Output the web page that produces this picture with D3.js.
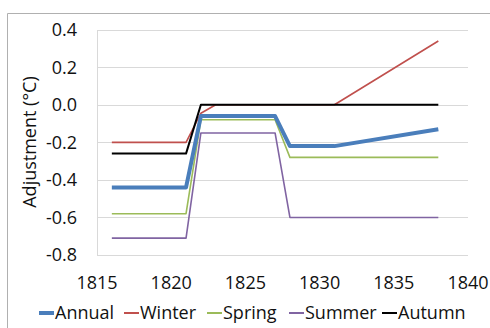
<!DOCTYPE html>
<html><head><meta charset="utf-8">
<script src="https://cdn.jsdelivr.net/npm/d3@7"></script>
<style>body{margin:0;background:#fff;} svg{display:block;font-family:"Open Sans",sans-serif;}</style>
</head><body><svg id="c" width="490" height="328"></svg>
<script>
const annualX = [1816, 1821, 1822, 1827, 1828, 1831, 1838];
const annual = [-0.44, -0.44, -0.06, -0.06, -0.22, -0.22, -0.13];
const winterX = [1816, 1821, 1822, 1823, 1831, 1838];
const winter = [-0.2, -0.2, -0.045, 0.0, 0.0, 0.34];
const springX = [1816, 1821, 1822, 1827, 1828, 1838];
const spring = [-0.58, -0.58, -0.08, -0.08, -0.28, -0.28];
const summerX = [1816, 1821, 1822, 1827, 1828, 1838];
const summer = [-0.71, -0.71, -0.15, -0.15, -0.6, -0.6];
const autumnX = [1816, 1821, 1822, 1838];
const autumn = [-0.26, -0.26, 0.0, 0.0];
const xTicks = [1815, 1820, 1825, 1830, 1835, 1840];
const yTicks = [0.4, 0.2, 0.0, -0.2, -0.4, -0.6, -0.8];
const seriesNames = ["Annual", "Winter", "Spring", "Summer", "Autumn"];
const colors = ["#4A7EBB", "#C0504D", "#9BBB59", "#8064A2", "#000000"];
const widths = [4, 1.6, 1.6, 1.6, 2];

const svg = d3.select("#c");
svg.append("path").attr("d","M7.5,330 V13.5 H492").attr("fill","none").attr("stroke","#b0b0b0").attr("stroke-width",1);

const x = d3.scaleLinear().domain([1815,1840]).range([97,468]);
const y = d3.scaleLinear().domain([-0.8,0.4]).range([255,29.7]);

svg.append("g").selectAll("line").data(yTicks).join("line")
  .attr("x1",x(1815)).attr("x2",x(1840))
  .attr("y1",d=>Math.round(y(d))+0.5).attr("y2",d=>Math.round(y(d))+0.5)
  .attr("stroke","#d9d9d9").attr("stroke-width",1);
svg.append("line").attr("x1",97.5).attr("x2",97.5).attr("y1",Math.round(y(0.4))+0.5).attr("y2",Math.round(y(-0.8))+0.5)
  .attr("stroke","#d9d9d9");

const fs = 18;
const tc = "#111";
svg.append("g").selectAll("text").data(yTicks).join("text")
  .attr("x",77).attr("y",d=>y(d)).attr("dy","0.35em").attr("text-anchor","end")
  .attr("font-size",fs).attr("fill",tc)
  .text(d=>d3.format(".1f")(d).replace("−","-"));
svg.append("g").selectAll("text").data(xTicks).join("text")
  .attr("x",d=>x(d)).attr("y",283).attr("dy","0.35em").attr("text-anchor","middle")
  .attr("font-size",fs).attr("fill",tc).text(d=>d);
svg.append("text").attr("transform","translate(30,142) rotate(-90)")
  .attr("text-anchor","middle").attr("dy","0.35em").attr("font-size",fs).attr("fill",tc)
  .text("Adjustment (°C)");

const data = [[annualX,annual],[winterX,winter],[springX,spring],[summerX,summer],[autumnX,autumn]];
const line = d3.line().x(d=>x(d[0])).y(d=>y(d[1]));
[1,2,3,0,4].forEach(i=>{
  const pts = data[i][0].map((v,j)=>[v,data[i][1][j]]);
  svg.append("path").attr("d",line(pts)).attr("fill","none")
    .attr("stroke",colors[i]).attr("stroke-width",widths[i]).attr("stroke-linejoin","round");
});

const legX = [39, 124, 207, 289, 382];
const lg = svg.append("g");
seriesNames.forEach((n,i)=>{
  lg.append("line").attr("x1",legX[i]).attr("x2",legX[i]+15).attr("y1",313).attr("y2",313)
    .attr("stroke",colors[i]).attr("stroke-width",i===0?4:2);
  lg.append("text").attr("x",legX[i]+16).attr("y",313).attr("dy","0.35em")
    .attr("font-size",fs).attr("fill",tc).text(n);
});
</script></body></html>
